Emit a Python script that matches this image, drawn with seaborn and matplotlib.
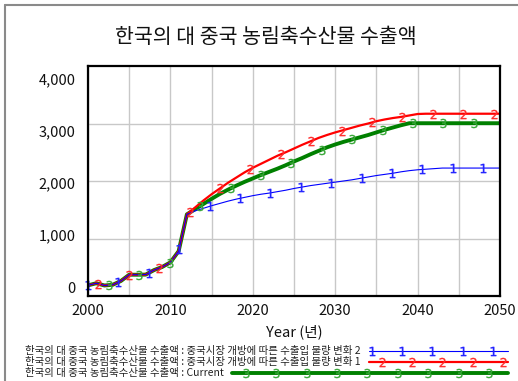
import numpy as np
import pandas as pd
import matplotlib
matplotlib.use("Agg")
import matplotlib.pyplot as plt
from matplotlib.lines import Line2D
import seaborn as sns

# ---- data -------------------------------------------------------------
title = "한국의 대 중국 농림축수산물 수출액"
x_label = "Year (년)"
years = list(range(2000, 2051))

# observed history shared by every scenario (2000-2012)
history = [185, 222, 183, 195, 262, 370, 370, 372, 450, 505, 585, 780, 1420]

# projections 2013-2050
scenario2 = [1480, 1525, 1570, 1610, 1650, 1685, 1715, 1745, 1770, 1790,
             1815, 1840, 1870, 1895, 1920, 1940, 1960, 1980, 2000, 2020,
             2045, 2070, 2095, 2115, 2135, 2160, 2180, 2195, 2205, 2215,
             2225, 2225, 2225, 2225, 2225, 2225, 2225, 2225]
scenario1 = [1540, 1660, 1770, 1870, 1970, 2060, 2150, 2230, 2300, 2370,
             2440, 2500, 2565, 2630, 2690, 2750, 2800, 2845, 2885, 2925,
             2965, 3000, 3040, 3070, 3095, 3115, 3140, 3165, 3170, 3170,
             3170, 3170, 3170, 3170, 3170, 3170, 3170, 3170]
current = [1510, 1600, 1690, 1775, 1850, 1920, 1985, 2045, 2105, 2160,
           2215, 2275, 2340, 2400, 2465, 2525, 2585, 2635, 2680, 2720,
           2760, 2800, 2845, 2890, 2930, 2970, 3005, 3005, 3005, 3005,
           3005, 3005, 3005, 3005, 3005, 3005, 3005, 3005]

series_names = [
    "한국의 대 중국 농림축수산물 수출액 : 중국시장 개방에 따른 수출입 물량 변화 2",
    "한국의 대 중국 농림축수산물 수출액 : 중국시장 개방에 따른 수출입 물량 변화 1",
    "한국의 대 중국 농림축수산물 수출액 : Current",
]
series_values = [history + scenario2, history + scenario1, history + current]
series_tags = ["1", "2", "3"]

y_ticks = [0, 1000, 2000, 3000, 4000]
y_tick_labels = ["0", "1,000", "2,000", "3,000", "4,000"]
x_ticks = [2000, 2010, 2020, 2030, 2040, 2050]
x_tick_labels = ["2000", "2010", "2020", "2030", "2040", "2050"]

# ---- styling ------------------------------------------------------------
line_colors = ["#0000ff", "#ff0000", "#008000"]
tag_colors = ["#2323ff", "#ff2a2a", "#38a838"]
line_widths = [0.8, 1.6, 2.8]
tag_phase = [0.0, 1.25, 2.55]     # years
tag_period = 3.69                 # years between number tags
tag_kw = dict(ms=6.6, mew=0.25)

sns.set_theme(style="white")
plt.rcParams["font.family"] = ["Noto Sans CJK KR", "DejaVu Sans"]

W, H = 518, 381
fig = plt.figure(figsize=(W / 100, H / 100), dpi=100)
fig.patch.set_facecolor("white")
ax = fig.add_axes([88 / W, 1 - 296 / H, 412 / W, 230 / H])

df = pd.DataFrame({
    "year": years * 3,
    "value": sum(series_values, []),
    "series": sum([[n] * len(years) for n in series_names], []),
})

# draw Current first, scenario 2 last (on top)
for i in [2, 1, 0]:
    sub = df[df["series"] == series_names[i]]
    sns.lineplot(data=sub, x="year", y="value", ax=ax, color=line_colors[i],
                 linewidth=line_widths[i], legend=False, zorder=3 + (2 - i))

for i in [2, 1, 0]:
    mx = np.arange(2000 + tag_phase[i], 2050.01, tag_period)
    my = np.interp(mx, years, series_values[i])
    ax.plot(mx, my, ls="none", marker=f"${series_tags[i]}$",
            color=tag_colors[i], zorder=7, clip_on=False, **tag_kw)

ax.set_xlim(2000, 2050)
ax.set_ylim(0, 4000)
ax.set_xlabel(x_label, fontsize=10.5, labelpad=4, color="#111111")
ax.set_ylabel("")

# x: labelled decades, gridlines every five years
ax.set_xticks(x_ticks, labels=x_tick_labels)
ax.set_xticks(list(range(2005, 2050, 10)), minor=True)
# y: gridlines at the thousands, value labels drawn slightly inside them
ax.set_yticks([154 + 0.908 * v for v in y_ticks], labels=y_tick_labels)
ax.set_yticks([1000, 2000, 3000], minor=True)

ax.xaxis.grid(True, which="both", color="#c8c8c8", lw=1.0)
ax.yaxis.grid(False, which="major")
ax.yaxis.grid(True, which="minor", color="#c8c8c8", lw=1.0)
ax.set_axisbelow(True)
ax.tick_params(which="both", length=0)
ax.tick_params(axis="x", pad=6, labelsize=10.5, labelcolor="#111111")
ax.tick_params(axis="y", pad=9, labelsize=10.5, labelcolor="#111111")
for s in ax.spines.values():
    s.set_visible(True)
    s.set_color("black")
    s.set_linewidth(1.6)
    s.set_zorder(10)

fig.text(266 / W, 1 - 37 / H, title, ha="center", va="center",
         fontsize=14.8, color="#111111")

# window frame
frame_kw = dict(transform=fig.transFigure, color="#8a8a8a", lw=1.5)
fig.add_artist(Line2D([5 / W, 5 / W], [0, 1 - 5 / H], **frame_kw))
fig.add_artist(Line2D([5 / W, 1], [1 - 5 / H, 1 - 5 / H], **frame_kw))

# legend rows: name, then a sample line with number tags
row_y = [351, 362, 373]
legend_texts = []
for i in range(3):
    t = fig.text(25 / W, 1 - row_y[i] / H, series_names[i], fontsize=7.5,
                 ha="left", va="center", color="#222222")
    legend_texts.append(t)
fig.canvas.draw()
row_tag_offset = [3, 13, 14]
for i in range(3):
    bb = legend_texts[i].get_window_extent()
    x0 = bb.x1 + 8
    x1 = 508
    yy = 1 - row_y[i] / H
    fig.add_artist(Line2D([x0 / W, x1 / W], [yy, yy], transform=fig.transFigure,
                          color=line_colors[i], lw=line_widths[i]))
    tx = np.arange(x0 + row_tag_offset[i], x1 + 0.5, 30.4)
    fig.add_artist(Line2D(tx / W, [yy] * len(tx), transform=fig.transFigure,
                          ls="none", marker=f"${series_tags[i]}$",
                          color=tag_colors[i], **tag_kw))

fig.savefig("out.png", dpi=100)
